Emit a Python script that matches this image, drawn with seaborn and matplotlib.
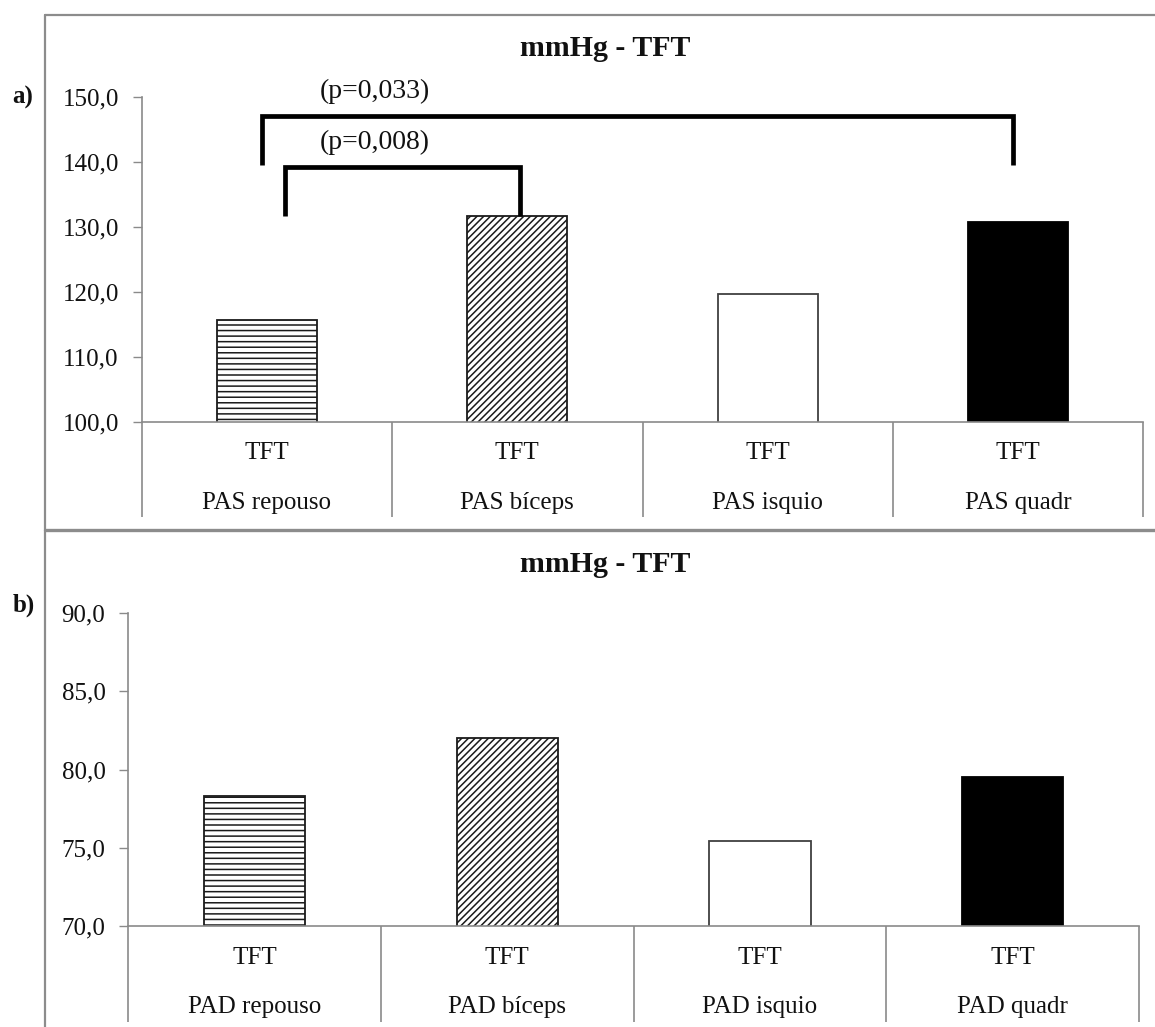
import numpy as np
import pandas as pd
import matplotlib
matplotlib.use("Agg")
import matplotlib.pyplot as plt
import matplotlib.transforms as mtransforms
from matplotlib.lines import Line2D
from matplotlib.ticker import FuncFormatter
import seaborn as sns

# ---------------- data ----------------
group_label = "TFT"
pas_categories = ["PAS repouso", "PAS bíceps", "PAS isquio", "PAS quadr"]
pas_values = [115.7, 131.6, 119.7, 130.8]
pad_categories = ["PAD repouso", "PAD bíceps", "PAD isquio", "PAD quadr"]
pad_values = [78.3, 82.0, 75.4, 79.5]
title_text = "mmHg - TFT"
pas_ticks = [100, 110, 120, 130, 140, 150]
pad_ticks = [70, 75, 80, 85, 90]
# significance brackets: (left category, right category, bracket level, left leg bottom, right leg bottom, label)
brackets = [
    (0, 1, 139.2, 131.6, 131.6, "(p=0,008)"),
    (0, 3, 147.0, 139.5, 139.5, "(p=0,033)"),
]
label_levels = [142.9, 150.8]

# ---------------- style ----------------
sns.set_style("white")
plt.rcParams["font.family"] = ["Liberation Serif", "DejaVu Serif"]
plt.rcParams["hatch.linewidth"] = 1.1
plt.rcParams["hatch.color"] = "#1a1a1a"

W, H = 1155, 1027
fig = plt.figure(figsize=(W / 100, H / 100), dpi=100)
fig.patch.set_facecolor("white")

AX_GRAY = "#8a8a8a"
FRAME_GRAY = "#8c8c8c"
TEXT = "#111111"

fills = ["white", "white", "white", "black"]
hatches = ["---", "/////", "", ""]
edges = ["#1a1a1a", "#1a1a1a", "#404040", "black"]


def fx(px):
    return px / W


def fy(py):
    return 1 - py / H


def comma_fmt(v, pos):
    return f"{v:.1f}".replace(".", ",")


def make_panel(rect, cats, vals, ylim, ticks, tft_y, cat_y, sep_bottom):
    ax = fig.add_axes(rect)
    df = pd.DataFrame({"cat": cats, "val": vals})
    sns.barplot(data=df, x="cat", y="val", hue="cat", palette=dict(zip(cats, fills)),
                legend=False, width=0.4, ax=ax, saturation=1)
    for p, h, ec in zip(ax.patches, hatches, edges):
        p.set_hatch(h)
        p.set_edgecolor(ec)
        p.set_linewidth(1.3)
    ax.set_xlim(-0.5, len(cats) - 0.5)
    ax.set_ylim(*ylim)
    ax.set_yticks(ticks)
    ax.yaxis.set_major_formatter(FuncFormatter(comma_fmt))
    ax.tick_params(axis="y", direction="out", length=6.5, width=1, color=AX_GRAY,
                   labelsize=18, labelcolor=TEXT, pad=10, left=True)
    ax.set_xticks([])
    ax.set_xlabel("")
    ax.set_ylabel("")
    for s in ["top", "right"]:
        ax.spines[s].set_visible(False)
    for s in ["left", "bottom"]:
        ax.spines[s].set_color(AX_GRAY)
        ax.spines[s].set_linewidth(1.2)
    trans = mtransforms.blended_transform_factory(ax.transData, ax.transAxes)
    for i, c in enumerate(cats):
        ax.text(i, tft_y, group_label, transform=trans, ha="center", va="center",
                fontsize=18, color=TEXT)
        ax.text(i, cat_y, c, transform=trans, ha="center", va="center",
                fontsize=18, color=TEXT)
    for b in np.arange(len(cats) + 1) - 0.5:
        ax.plot([b, b], [0, sep_bottom], transform=trans, color=AX_GRAY, lw=1.2,
                clip_on=False, solid_capstyle="butt")
    return ax


ax1 = make_panel([fx(141.7), fy(421.7), fx(1143.3 - 141.7), 325 / H],
                 pas_categories, pas_values, (100, 150), pas_ticks,
                 -0.0963, -0.25, -0.293)
ax2 = make_panel([fx(128.3), fy(926), fx(1139 - 128.3), 313 / H],
                 pad_categories, pad_values, (70, 90), pad_ticks,
                 -0.102, -0.259, -0.306)

# significance brackets
leg_offsets = {(0, 1): (0.072, 0.01), (0, 3): (-0.021, -0.02)}
for (l, r, lvl, lb, rb, txt), ty in zip(brackets, label_levels):
    ol, orr = leg_offsets[(l, r)]
    xl, xr = l + ol, r + orr
    ax1.plot([xl, xl, xr, xr], [lb, lvl, lvl, rb], color="black", lw=3.4,
             clip_on=False, solid_joinstyle="miter", solid_capstyle="butt")
    ax1.text(0.432, ty, txt, ha="center", va="center", fontsize=20,
             color=TEXT, clip_on=False)

# titles and panel letters
fig.text(fx(605), fy(49), title_text, ha="center", va="center", fontsize=21.5,
         fontweight="bold", color=TEXT)
fig.text(fx(605), fy(564), title_text, ha="center", va="center", fontsize=21.5,
         fontweight="bold", color=TEXT)
fig.text(fx(23), fy(97), "a)", ha="center", va="center", fontsize=18,
         fontweight="bold", color=TEXT)
fig.text(fx(24), fy(605), "b)", ha="center", va="center", fontsize=18,
         fontweight="bold", color=TEXT)

# chart frames
frame_lines = [
    ([45, W], [15, 15], 1.6),
    ([45, 45], [15, H], 1.6),
    ([45, W], [530, 530], 2.4),
]
for xs, ys, lw in frame_lines:
    fig.add_artist(Line2D([fx(x) for x in xs], [fy(y) for y in ys],
                          transform=fig.transFigure, color=FRAME_GRAY, lw=lw))

fig.savefig("out.png", dpi=100, facecolor="white")
